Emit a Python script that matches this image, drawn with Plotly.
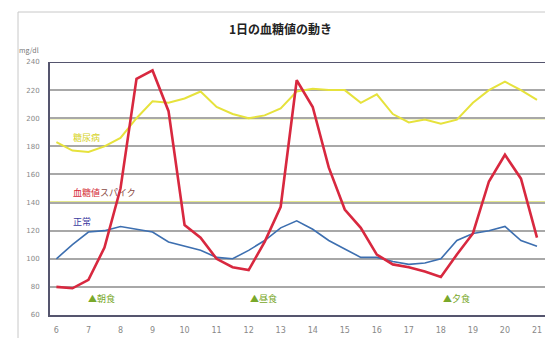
import plotly.graph_objects as go

# Time of day (hours, half-hour steps)
hours = [6 + 0.5 * i for i in range(31)]

# Blood glucose (mg/dl)
spike = [80, 79, 85, 108, 150, 228, 234, 205, 124, 115, 100,
         94, 92, 112, 137, 227, 208, 165, 135, 122, 103,
         96, 94, 91, 87, 103, 118, 155, 174, 157, 115]
normal = [100, 110, 119, 120, 123, 121, 119, 112, 109, 106, 101,
          100, 106, 113, 122, 127, 121, 113, 107, 101, 101,
          98, 96, 97, 100, 113, 118, 120, 123, 113, 109]
diabetes = [183, 177, 176, 180, 186, 200, 212, 211, 214, 219, 208,
            203, 200, 202, 207, 219, 221, 220, 220, 211, 217,
            203, 197, 199, 196, 199, 211, 220, 226, 220, 213]

x_ticks = list(range(6, 22))
y_ticks = list(range(60, 241, 20))
ref_levels = [200, 140]

title = "1日の血糖値の動き"
unit = "mg/dl"
meal_labels = ["▲朝食", "▲昼食", "▲夕食"]
meal_hours = [7.4, 12.45, 18.5]

JP = "Noto Sans CJK JP"

fig = go.Figure()
fig.add_trace(go.Scatter(x=hours, y=diabetes, mode="lines",
                         line=dict(color="#e6e23c", width=2), hoverinfo="skip"))
fig.add_trace(go.Scatter(x=hours, y=normal, mode="lines",
                         line=dict(color="#3d6fb0", width=1.6), hoverinfo="skip"))
fig.add_trace(go.Scatter(x=hours, y=spike, mode="lines",
                         line=dict(color="#d8283f", width=2.6), hoverinfo="skip"))

for lv in ref_levels:
    fig.add_shape(type="line", xref="paper", x0=0, x1=1, yref="y", y0=lv, y1=lv,
                  line=dict(color="#c9d21a", width=2), layer="between")

# top border of the plot area
fig.add_shape(type="line", xref="paper", x0=0, x1=1.05, yref="y", y0=240, y1=240,
              line=dict(color="#55556e", width=2), layer="above")

# outer frame of the chart
fig.add_shape(type="rect", xref="paper", yref="paper",
              x0=-32 / 495, x1=1.1, y0=-40 / 253, y1=(338 - 12 - 23) / 253,
              line=dict(color="#c8c8c8", width=1), fillcolor="rgba(0,0,0,0)", layer="below")

annotations = [
    dict(text="<b>" + title + "</b>", xref="paper", yref="paper",
         x=(280 - 50) / 495, y=(315 - 28) / 253, xanchor="center", yanchor="middle",
         showarrow=False, font=dict(family=JP, size=12, color="#222222")),
    dict(text=unit, xref="paper", yref="paper", x=-33 / 495, y=(315 - 50) / 253,
         xanchor="left", yanchor="middle", showarrow=False,
         font=dict(family=JP, size=7, color="#777777")),
    dict(text="糖尿病", x=6.47, y=186.5, xanchor="left", showarrow=False,
         font=dict(family=JP, size=9, color="#d6d21e")),
    dict(text="<span style='color:#d42a36'>血糖値</span><span style='color:#8a4a44'>スパイク</span>",
         x=6.47, y=147.5, xanchor="left", showarrow=False,
         font=dict(family=JP, size=9)),
    dict(text="正常", x=6.47, y=126.5, xanchor="left", showarrow=False,
         font=dict(family=JP, size=9, color="#3a3aa0")),
]
for lab, h in zip(meal_labels, meal_hours):
    annotations.append(dict(text=lab, x=h, y=72, showarrow=False,
                            font=dict(family=JP, size=9, color="#79a82a")))

fig.update_layout(
    width=545, height=338,
    margin=dict(l=50, r=0, t=62, b=23),
    paper_bgcolor="white", plot_bgcolor="white",
    showlegend=False,
    annotations=annotations,
    xaxis=dict(range=[5.8, 21.25], tickvals=x_ticks, showgrid=False, zeroline=False,
               showline=True, linecolor="#55556e", linewidth=2,
               ticks="outside", ticklen=6, tickcolor="rgba(0,0,0,0)",
               tickfont=dict(family="DejaVu Sans", size=8, color="#888888")),
    yaxis=dict(range=[60, 240], tickvals=y_ticks, showgrid=True, gridcolor="#a8a8a8",
               gridwidth=1.5, zeroline=False,
               showline=True, linecolor="#55556e", linewidth=2,
               ticks="outside", ticklen=7, tickcolor="rgba(0,0,0,0)",
               tickfont=dict(family="DejaVu Sans", size=7, color="#888888")),
)

fig.write_html("out.html")
